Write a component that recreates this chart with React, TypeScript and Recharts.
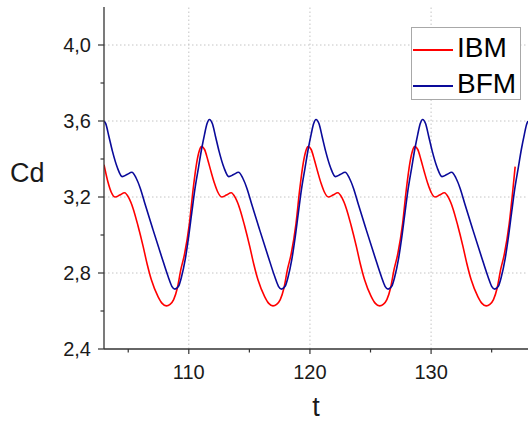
import React from 'react';
import { LineChart, Line, XAxis, YAxis, ReferenceLine, Legend } from 'recharts';

// IBM series (t, Cd)
const ibmT = [
  103.0, 103.32, 103.6, 103.92, 104.3, 104.7, 105.05, 105.4, 105.8, 106.23, 106.55, 106.91, 107.46, 107.8, 108.15, 108.45, 108.75, 109.05, 109.35, 109.65, 110.05, 110.35, 110.65, 110.85, 111.05,
  111.3, 111.57, 111.85, 112.12, 112.4, 112.72, 113.1, 113.5, 113.85, 114.2, 114.6, 115.03, 115.35, 115.71, 116.26, 116.6, 116.95, 117.25, 117.55, 117.85, 118.15, 118.45, 118.85, 119.15, 119.45, 119.65, 119.85,
  120.1, 120.37, 120.65, 120.92, 121.2, 121.52, 121.9, 122.3, 122.65, 123.0, 123.4, 123.83, 124.15, 124.51, 125.06, 125.4, 125.75, 126.05, 126.35, 126.65, 126.95, 127.25, 127.65, 127.95, 128.25, 128.45, 128.65,
  128.9, 129.17, 129.45, 129.72, 130.0, 130.32, 130.7, 131.1, 131.45, 131.8, 132.2, 132.63, 132.95, 133.31, 133.86, 134.2, 134.55, 134.85, 135.15, 135.45, 135.75, 136.05, 136.45, 136.75, 136.94,
];
const ibmCd = [
  3.37, 3.28, 3.225, 3.2, 3.21, 3.222, 3.195, 3.14, 3.05, 2.94, 2.85, 2.764, 2.676, 2.64, 2.627, 2.635, 2.66, 2.72, 2.82, 2.9, 3.06, 3.237, 3.38, 3.44, 3.465,
  3.45, 3.395, 3.33, 3.272, 3.225, 3.2, 3.21, 3.222, 3.195, 3.14, 3.05, 2.94, 2.85, 2.764, 2.676, 2.64, 2.627, 2.635, 2.66, 2.72, 2.82, 2.9, 3.06, 3.237, 3.38, 3.44, 3.465,
  3.45, 3.395, 3.33, 3.272, 3.225, 3.2, 3.21, 3.222, 3.195, 3.14, 3.05, 2.94, 2.85, 2.764, 2.676, 2.64, 2.627, 2.635, 2.66, 2.72, 2.82, 2.9, 3.06, 3.237, 3.38, 3.44, 3.465,
  3.45, 3.395, 3.33, 3.272, 3.225, 3.2, 3.21, 3.222, 3.195, 3.14, 3.05, 2.94, 2.85, 2.764, 2.676, 2.64, 2.627, 2.635, 2.66, 2.72, 2.82, 2.9, 3.06, 3.237, 3.36,
];

// BFM series (t, Cd)
const bfmT = [
  103.0, 103.15, 103.4, 103.7, 104.1, 104.5, 104.9, 105.3, 105.65, 106.0, 106.4, 107.05, 107.75, 108.3, 108.6, 108.85, 109.15, 109.4, 109.7, 109.95, 110.25, 110.5, 110.8, 111.05, 111.3, 111.5, 111.7,
  111.95, 112.2, 112.5, 112.9, 113.3, 113.7, 114.1, 114.45, 114.8, 115.2, 115.85, 116.55, 117.1, 117.4, 117.65, 117.95, 118.2, 118.5, 118.75, 119.05, 119.3, 119.6, 119.85, 120.1, 120.3, 120.5,
  120.75, 121.0, 121.3, 121.7, 122.1, 122.5, 122.9, 123.25, 123.6, 124.0, 124.65, 125.35, 125.9, 126.2, 126.45, 126.75, 127.0, 127.3, 127.55, 127.85, 128.1, 128.4, 128.65, 128.9, 129.1, 129.3,
  129.55, 129.8, 130.1, 130.5, 130.9, 131.3, 131.7, 132.05, 132.4, 132.8, 133.45, 134.15, 134.7, 135.0, 135.25, 135.55, 135.8, 136.1, 136.35, 136.65, 136.9, 137.2, 137.45, 137.7, 137.9, 138.0,
];
const bfmCd = [
  3.6, 3.585, 3.52, 3.44, 3.355, 3.307, 3.318, 3.33, 3.3, 3.245, 3.16, 3.027, 2.887, 2.78, 2.73, 2.715, 2.73, 2.78, 2.87, 2.974, 3.12, 3.24, 3.355, 3.45, 3.53, 3.585, 3.608,
  3.585, 3.52, 3.44, 3.355, 3.307, 3.318, 3.33, 3.3, 3.245, 3.16, 3.027, 2.887, 2.78, 2.73, 2.715, 2.73, 2.78, 2.87, 2.974, 3.12, 3.24, 3.355, 3.45, 3.53, 3.585, 3.608,
  3.585, 3.52, 3.44, 3.355, 3.307, 3.318, 3.33, 3.3, 3.245, 3.16, 3.027, 2.887, 2.78, 2.73, 2.715, 2.73, 2.78, 2.87, 2.974, 3.12, 3.24, 3.355, 3.45, 3.53, 3.585, 3.608,
  3.585, 3.52, 3.44, 3.355, 3.307, 3.318, 3.33, 3.3, 3.245, 3.16, 3.027, 2.887, 2.78, 2.73, 2.715, 2.73, 2.78, 2.87, 2.974, 3.12, 3.24, 3.355, 3.45, 3.53, 3.585, 3.6,
];

const xDomain = [103, 138];
const yDomain = [2.4, 4.2];
const xTicks = [105, 110, 115, 120, 125, 130, 135];
const xLabeled = [110, 120, 130];
const yTicks = [2.4, 2.6, 2.8, 3.0, 3.2, 3.4, 3.6, 3.8, 4.0];
const yLabeled = [2.4, 2.8, 3.2, 3.6, 4.0];
const yTicksRight = [2.6, 2.8, 3.0, 3.2, 3.4, 3.6, 3.8, 4.0];
const xGrid = [110, 120, 130];
const yGrid = [2.8, 3.2, 3.6, 4.0];

const seriesNames = ['IBM', 'BFM'];
const seriesColors = ['#ff0000', '#0a0a9a'];

const ibmData = ibmT.map((t, i) => ({ t, cd: ibmCd[i] }));
const bfmData = bfmT.map((t, i) => ({ t, cd: bfmCd[i] }));

const FONT = '"Liberation Sans", Arial, Helvetica, sans-serif';
const AXIS = '#333333';
const TEXT = '#1a1a1a';

const isIn = (arr: number[], v: number) => arr.some((a) => Math.abs(a - v) < 1e-6);
const fmtY = (v: number) => v.toFixed(1).replace('.', ',');

const LeftTick = (props: any) => {
  const { x, y, payload } = props;
  const major = isIn(yLabeled, payload.value);
  return (
    <g>
      <line x1={x - (major ? 6 : 3.5)} x2={x} y1={y} y2={y} stroke={AXIS} strokeWidth={1.2} />
      {major && (
        <text x={x - 13} y={y + 7} textAnchor="end" fontSize={20} fontFamily={FONT} fill={TEXT}>
          {fmtY(payload.value)}
        </text>
      )}
    </g>
  );
};

const RightTick = (props: any) => {
  const { x, y, payload } = props;
  const major = isIn(yLabeled, payload.value);
  return <line x1={x - (major ? 6 : 4)} x2={x} y1={y} y2={y} stroke={AXIS} strokeWidth={1.2} />;
};

const BottomTick = (props: any) => {
  const { x, y, payload } = props;
  const major = isIn(xLabeled, payload.value);
  return (
    <g>
      <line x1={x} x2={x} y1={y} y2={y + (major ? 5 : 3.5)} stroke={AXIS} strokeWidth={1.2} />
      {major && (
        <text x={x} y={y + 29.5} textAnchor="middle" fontSize={20} fontFamily={FONT} fill={TEXT}>
          {String(payload.value)}
        </text>
      )}
    </g>
  );
};

const TopTick = (props: any) => {
  const { x, y, payload } = props;
  const major = isIn(xLabeled, payload.value);
  return <line x1={x} x2={x} y1={y} y2={y + (major ? 6 : 4)} stroke={AXIS} strokeWidth={1.2} />;
};

const LegendBox = () => (
  <div style={{ width: 110, height: 73, border: '1px solid #a8a8a8', background: '#ffffff', boxSizing: 'border-box' }}>
    <svg width={108} height={71} style={{ display: 'block' }}>
      {seriesNames.map((name, i) => (
        <g key={name}>
          <line x1={1} x2={41} y1={i === 0 ? 22 : 58} y2={i === 0 ? 22 : 58} stroke={seriesColors[i]} strokeWidth={1.8} />
          <text x={45} y={i === 0 ? 28.5 : 65} fontSize={28} fontFamily={FONT} fill="#000">
            {name}
          </text>
        </g>
      ))}
    </svg>
  </div>
);

export default function App() {
  return (
    <div style={{ position: 'absolute', left: 0, top: 0, width: 530, height: 423, background: '#fff' }}>
      <LineChart width={530} height={423} margin={{ top: 7, right: 2, bottom: 0, left: 0 }}>
        <XAxis
          xAxisId="b"
          dataKey="t"
          type="number"
          domain={xDomain}
          allowDataOverflow
          ticks={xTicks}
          interval={0}
          height={74}
          tickSize={0}
          tickMargin={0}
          tickLine={false}
          tick={<BottomTick />}
          axisLine={{ stroke: AXIS, strokeWidth: 1.3 }}
          label={{ value: 't', position: 'insideBottom', offset: 7, style: { fontSize: 27, fontFamily: FONT, fill: TEXT } }}
        />
        <XAxis
          xAxisId="top"
          orientation="top"
          dataKey="t"
          type="number"
          domain={xDomain}
          allowDataOverflow
          ticks={xTicks}
          interval={0}
          height={0}
          tickSize={0}
          tickMargin={0}
          tickLine={false}
          tick={<TopTick />}
          axisLine={{ stroke: AXIS, strokeWidth: 1.2 }}
        />
        <YAxis
          yAxisId="l"
          type="number"
          domain={yDomain}
          allowDataOverflow
          ticks={yTicks}
          interval={0}
          width={104}
          tickSize={0}
          tickMargin={0}
          tickLine={false}
          tick={<LeftTick />}
          axisLine={{ stroke: AXIS, strokeWidth: 1.3 }}
          label={{ value: 'Cd', position: 'insideLeft', offset: 10, dy: -6, angle: 0, style: { fontSize: 27, fontFamily: FONT, fill: TEXT } }}
        />
        <YAxis
          yAxisId="r"
          orientation="right"
          type="number"
          domain={yDomain}
          allowDataOverflow
          ticks={yTicksRight}
          interval={0}
          width={0}
          tickSize={0}
          tickMargin={0}
          tickLine={false}
          tick={<RightTick />}
          axisLine={{ stroke: AXIS, strokeWidth: 1.2 }}
        />
        {xGrid.map((v) => (
          <ReferenceLine key={'gx' + v} xAxisId="b" yAxisId="l" x={v} stroke="#c4c4c4" strokeWidth={1} strokeDasharray="1.5 2.5" />
        ))}
        {yGrid.map((v) => (
          <ReferenceLine key={'gy' + v} xAxisId="b" yAxisId="l" y={v} stroke="#c4c4c4" strokeWidth={1} strokeDasharray="1.5 2.5" />
        ))}
        <Line
          xAxisId="b"
          yAxisId="l"
          data={ibmData}
          dataKey="cd"
          name={seriesNames[0]}
          type="monotone"
          stroke={seriesColors[0]}
          strokeWidth={1.6}
          dot={false}
          activeDot={false}
          isAnimationActive={false}
        />
        <Line
          xAxisId="b"
          yAxisId="l"
          data={bfmData}
          dataKey="cd"
          name={seriesNames[1]}
          type="monotone"
          stroke={seriesColors[1]}
          strokeWidth={1.6}
          dot={false}
          activeDot={false}
          isAnimationActive={false}
        />
        <Legend
          layout="vertical"
          align="center"
          verticalAlign="middle"
          content={<LegendBox />}
          wrapperStyle={{ left: 411, top: 27, width: 110, height: 73 }}
        />
      </LineChart>
    </div>
  );
}
